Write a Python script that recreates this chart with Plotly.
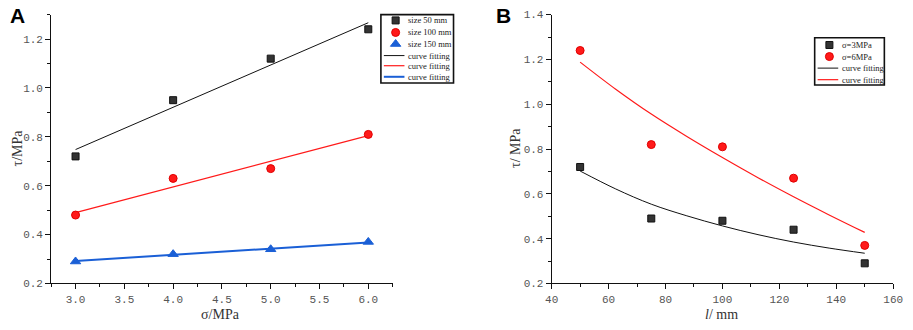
import plotly.graph_objects as go

# ---------------- data ----------------
# Panel A
sigma = [3.0, 4.0, 5.0, 6.0]
tau_50 = [0.72, 0.95, 1.12, 1.24]
tau_100 = [0.48, 0.63, 0.67, 0.81]
tau_150 = [0.29, 0.32, 0.34, 0.37]
fit_sigma = [3.0, 6.0]
fit_50 = [0.748, 1.267]
fit_100 = [0.490, 0.805]
fit_150 = [0.292, 0.368]
legend_a = ["size 50 mm", "size 100 mm", "size 150 mm", "curve fitting", "curve fitting", "curve fitting"]

# Panel B
length = [50, 75, 100, 125, 150]
tau_s3 = [0.72, 0.49, 0.48, 0.44, 0.29]
tau_s6 = [1.24, 0.82, 0.81, 0.67, 0.37]
fit_len = [50, 62.5, 75, 87.5, 100, 112.5, 125, 137.5, 150]
fit_s3 = [0.702, 0.622, 0.554, 0.502, 0.457, 0.418, 0.385, 0.358, 0.335]
fit_s6 = [1.188, 1.067, 0.956, 0.856, 0.762, 0.672, 0.587, 0.506, 0.428]
legend_b = ["σ=3MPa", "σ=6MPa", "curve fitting", "curve fitting"]

W, H = 913, 330
def px(x): return x / W
def py(y): return 1 - y / H

BLACK = "#333333"
RED = "#ff1a1a"
BLUE = "#1a5fd6"
SERIF = "Liberation Serif"
MONO = "Liberation Mono"
TICKC = "#555555"

fig = go.Figure()

sq = dict(symbol="square", size=7, color=BLACK, line=dict(color="#111", width=1))
ci = dict(symbol="circle", size=8, color=RED, line=dict(color="#e00000", width=1))
tr = dict(symbol="triangle-up", size=9, color=BLUE, line=dict(color=BLUE, width=1))

# Panel A traces
fig.add_trace(go.Scatter(x=fit_sigma, y=fit_50, mode="lines", line=dict(color="#111", width=1), xaxis="x", yaxis="y"))
fig.add_trace(go.Scatter(x=fit_sigma, y=fit_100, mode="lines", line=dict(color=RED, width=1.2), xaxis="x", yaxis="y"))
fig.add_trace(go.Scatter(x=fit_sigma, y=fit_150, mode="lines", line=dict(color=BLUE, width=2), xaxis="x", yaxis="y"))
fig.add_trace(go.Scatter(x=sigma, y=tau_50, mode="markers", marker=sq, xaxis="x", yaxis="y"))
fig.add_trace(go.Scatter(x=sigma, y=tau_100, mode="markers", marker=ci, xaxis="x", yaxis="y"))
fig.add_trace(go.Scatter(x=sigma, y=tau_150, mode="markers", marker=tr, xaxis="x", yaxis="y"))

# Panel B traces
fig.add_trace(go.Scatter(x=fit_len, y=fit_s3, mode="lines", line=dict(color="#111", width=1, shape="spline"), xaxis="x2", yaxis="y2"))
fig.add_trace(go.Scatter(x=fit_len, y=fit_s6, mode="lines", line=dict(color=RED, width=1.2, shape="spline"), xaxis="x2", yaxis="y2"))
fig.add_trace(go.Scatter(x=length, y=tau_s3, mode="markers", marker=sq, xaxis="x2", yaxis="y2"))
fig.add_trace(go.Scatter(x=length, y=tau_s6, mode="markers", marker=ci, xaxis="x2", yaxis="y2"))

# ---------------- hand-drawn legends (pixel overlay axes) ----------------
annotations = []
shapes = []

def legend_block(x0, x1, y0, y1, rows, labels, kinds):
    shapes.append(dict(type="rect", xref="paper", yref="paper", x0=px(x0), x1=px(x1), y0=py(y0), y1=py(y1),
                       line=dict(color="#111", width=1.6), fillcolor="white", layer="below"))
    for ry, lab, kind in zip(rows, labels, kinds):
        if kind[0] == "m":
            fig.add_trace(go.Scatter(x=[x0 + 15], y=[ry], mode="markers", marker=kind[1],
                                     xaxis="x3", yaxis="y3"))
        else:
            fig.add_trace(go.Scatter(x=[x0 + 3, x0 + 24], y=[ry, ry], mode="lines", line=dict(color=kind[1], width=kind[2]),
                                     xaxis="x3", yaxis="y3"))
        annotations.append(dict(x=x0 + 26, y=ry, xref="x3", yref="y3", text=lab, showarrow=False,
                                xanchor="left", yanchor="middle", font=dict(family=SERIF, size=8.5, color="#222")))

legend_block(381, 455, 10, 81, [16, 28.5, 40.5, 52.5, 63, 74.5], legend_a,
             [("m", sq), ("m", ci), ("m", tr), ("l", "#111", 1), ("l", RED, 1.2), ("l", BLUE, 2)])
legend_block(823, 894, 34, 83, [41.5, 53.5, 65.5, 77.5], legend_b,
             [("m", sq), ("m", ci), ("l", "#111", 1), ("l", RED, 1.2)])

# axis titles and panel letters
def ann(x, y, text, size, angle=0, family=SERIF, color="#333", bold=False):
    annotations.append(dict(x=px(x), y=py(y), xref="paper", yref="paper", text=f"<b>{text}</b>" if bold else text,
                            showarrow=False, textangle=angle, xanchor="center", yanchor="middle",
                            font=dict(family=family, size=size, color=color)))

ann(218, 321, "σ/MPa", 14)
ann(11, 148, "τ/MPa", 14, angle=-90)
ann(728, 321, "<i>l</i>/ mm", 14)
ann(518, 148, "τ/ MPa", 14, angle=-90)
ann(11, 11, "A", 21, family="Liberation Sans", color="#000", bold=True)
ann(506, 11, "B", 21, family="Liberation Sans", color="#000", bold=True)

axis_common = dict(showline=True, linecolor="#111", linewidth=1, ticks="outside", ticklen=5, tickcolor="#111",
                   showgrid=False, zeroline=False, fixedrange=True,
                   tickfont=dict(family=MONO, size=11, color=TICKC))
ydom = [py(289), py(10)]

fig.update_layout(
    width=W, height=H, margin=dict(l=0, r=0, t=0, b=0),
    paper_bgcolor="white", plot_bgcolor="rgba(0,0,0,0)", showlegend=False,
    xaxis=dict(domain=[px(45), px(393)], range=[2.75, 6.25], tick0=3, dtick=0.5, tickformat=".1f",
               minor=dict(dtick=0.25, tick0=3, ticks="outside", ticklen=3, tickcolor="#111"),
               anchor="y", **axis_common),
    yaxis=dict(domain=ydom, range=[0.2, 1.3], tick0=0.2, dtick=0.2, tickformat=".1f",
               minor=dict(dtick=0.1, tick0=0.2, ticks="outside", ticklen=3, tickcolor="#111"),
               anchor="x", **axis_common),
    xaxis2=dict(domain=[px(555), px(903)], range=[40, 160], tick0=40, dtick=20,
                minor=dict(dtick=10, tick0=40, ticks="outside", ticklen=3, tickcolor="#111"),
                anchor="y2", **axis_common),
    yaxis2=dict(domain=ydom, range=[0.2, 1.4], tick0=0.2, dtick=0.2, tickformat=".1f",
                minor=dict(dtick=0.1, tick0=0.2, ticks="outside", ticklen=3, tickcolor="#111"),
                anchor="x2", **axis_common),
    xaxis3=dict(domain=[0, 1], range=[0, W], visible=False, fixedrange=True, anchor="y3"),
    yaxis3=dict(domain=[0, 1], range=[H, 0], visible=False, fixedrange=True, anchor="x3"),
    annotations=annotations, shapes=shapes,
)

fig.write_html("out.html", config={"displayModeBar": False},
               post_script="document.body.style.margin='0';document.body.style.overflow='hidden';")
